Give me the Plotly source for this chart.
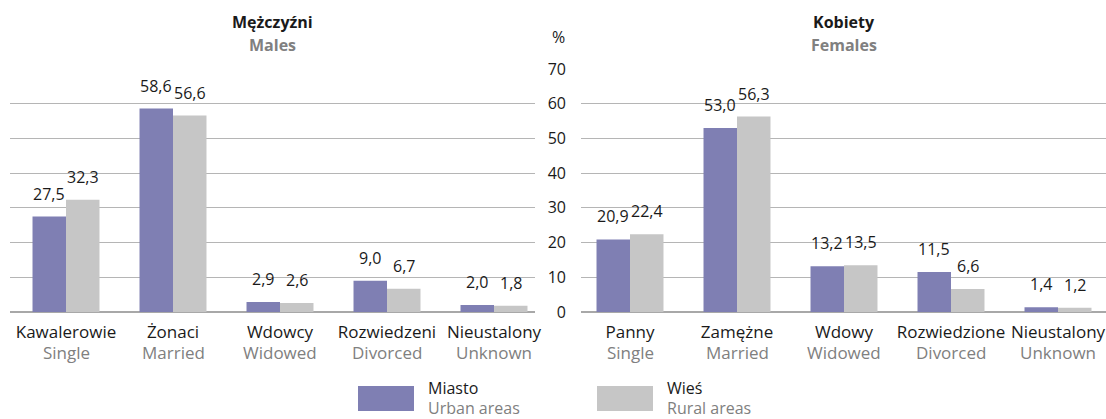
import plotly.graph_objects as go

# ---------------- data ----------------
cat_m = ["Kawalerowie", "Żonaci", "Wdowcy", "Rozwiedzeni", "Nieustalony"]
cat_f = ["Panny", "Zamężne", "Wdowy", "Rozwiedzione", "Nieustalony "]
cat_f_label = ["Panny", "Zamężne", "Wdowy", "Rozwiedzione", "Nieustalony"]
cat_en = ["Single", "Married", "Widowed", "Divorced", "Unknown"]
males_urban = [27.5, 58.6, 2.9, 9.0, 2.0]
males_rural = [32.3, 56.6, 2.6, 6.7, 1.8]
females_urban = [20.9, 53.0, 13.2, 11.5, 1.4]
females_rural = [22.4, 56.3, 13.5, 6.6, 1.2]
y_ticks = [0, 10, 20, 30, 40, 50, 60, 70]

# ---------------- style ----------------
W, H = 1106, 419
FONT = "Open Sans"
PURPLE = "#7f7fb3"
GRAY = "#c6c6c6"
TXT = "#1a1a1a"
TXT2 = "#808080"
GRID = "#b5b5b5"


def px_x(p):
    return p / W


def px_y(p):
    return 1 - p / H


def fmt(v):
    return f"{v:.1f}".replace(".", ",")


fig = go.Figure()

fig.add_trace(go.Bar(x=cat_m, y=males_urban, marker_color=PURPLE, xaxis="x", yaxis="y",
                     name="Miasto", showlegend=False, hoverinfo="skip"))
fig.add_trace(go.Bar(x=cat_m, y=males_rural, marker_color=GRAY, xaxis="x", yaxis="y",
                     name="Wieś", showlegend=False, hoverinfo="skip"))
fig.add_trace(go.Bar(x=cat_f, y=females_urban, marker_color=PURPLE, xaxis="x2", yaxis="y2",
                     name="Miasto", showlegend=False, hoverinfo="skip"))
fig.add_trace(go.Bar(x=cat_f, y=females_rural, marker_color=GRAY, xaxis="x2", yaxis="y2",
                     name="Wieś", showlegend=False, hoverinfo="skip"))

ydom = [px_y(312), px_y(69)]
step = 107.0
x1_dom = [px_x(10), px_x(535)]
x2_dom = [px_x(581), 1.0]
x1_range = [-(66 - 10) / step, (535 - 66) / step]
x2_range = [-(630 - 581) / step, (1106 - 630) / step]

common_x = dict(type="category", showgrid=False, showline=False, ticks="", automargin=False,
                tickfont=dict(family=FONT, size=17, color=TXT), ticklabelstandoff=8)
common_y = dict(range=[0, 70], tickvals=y_ticks, showgrid=True, gridcolor=GRID, gridwidth=1,
                zeroline=True, zerolinecolor="#a8a8a8", zerolinewidth=1.5, automargin=False,
                showline=False, ticks="", fixedrange=True)

fig.update_layout(
    template="none",
    width=W, height=H, autosize=False,
    margin=dict(l=0, r=0, t=0, b=0, pad=0),
    paper_bgcolor="white", plot_bgcolor="white",
    barmode="group", bargap=0.374, bargroupgap=0,
    showlegend=False,
    font=dict(family=FONT, color=TXT),
    xaxis=dict(domain=x1_dom, range=x1_range, anchor="y", tickvals=cat_m,
               ticktext=cat_m, **common_x),
    xaxis2=dict(domain=x2_dom, range=x2_range, anchor="y2", tickvals=cat_f,
                ticktext=cat_f_label, **common_x),
    yaxis=dict(domain=ydom, anchor="x", showticklabels=False, **common_y),
    yaxis2=dict(domain=ydom, anchor="x2", showticklabels=True,
                tickfont=dict(family=FONT, size=16, color=TXT), ticklabelstandoff=14,
                **common_y),
)

annotations = []
bar_off = 16.75
for xa, ya, cats, u, r in [("x", "y", cat_m, males_urban, males_rural),
                           ("x2", "y2", cat_f, females_urban, females_rural)]:
    for c, vu, vr, en in zip(cats, u, r, cat_en):
        for v, sh in [(vu, -bar_off), (vr, bar_off)]:
            annotations.append(dict(x=c, y=v, xref=xa, yref=ya, text=fmt(v), showarrow=False,
                                    xanchor="center", yanchor="bottom", xshift=sh, yshift=10,
                                    font=dict(family=FONT, size=16, color=TXT)))
        # English category name (second label line)
        annotations.append(dict(x=c, y=0, xref=xa, yref=ya, text=en, showarrow=False,
                                xanchor="center", yanchor="middle", yshift=-40,
                                font=dict(family=FONT, size=17, color=TXT2)))

# panel titles
for cx, t1, t2 in [((10 + 535) / 2, "Mężczyźni", "Males"), ((581 + 1106) / 2, "Kobiety", "Females")]:
    annotations.append(dict(x=px_x(cx), y=px_y(22), xref="paper", yref="paper", text=f"<b>{t1}</b>",
                            showarrow=False, xanchor="center", yanchor="middle",
                            font=dict(family=FONT, size=16, color=TXT)))
    annotations.append(dict(x=px_x(cx), y=px_y(45), xref="paper", yref="paper", text=f"<b>{t2}</b>",
                            showarrow=False, xanchor="center", yanchor="middle",
                            font=dict(family=FONT, size=16, color=TXT2)))

annotations.append(dict(x=px_x(558), y=px_y(37), xref="paper", yref="paper", text="%",
                        showarrow=False, xanchor="center", yanchor="middle",
                        font=dict(family=FONT, size=16, color=TXT)))

# legend
shapes = []
for x0, col, t1, t2 in [(358, PURPLE, "Miasto", "Urban areas"), (597, GRAY, "Wieś", "Rural areas")]:
    shapes.append(dict(type="rect", xref="paper", yref="paper", x0=px_x(x0), x1=px_x(x0 + 56),
                       y0=px_y(411), y1=px_y(386), fillcolor=col, line=dict(width=0)))
    annotations.append(dict(x=px_x(x0 + 68), y=px_y(388), xref="paper", yref="paper", text=t1,
                            showarrow=False, xanchor="left", yanchor="middle",
                            font=dict(family=FONT, size=16, color=TXT)))
    annotations.append(dict(x=px_x(x0 + 68), y=px_y(407.5), xref="paper", yref="paper", text=t2,
                            showarrow=False, xanchor="left", yanchor="middle",
                            font=dict(family=FONT, size=16, color=TXT2)))

fig.update_layout(annotations=annotations, shapes=shapes)

fig.write_html("out.html", config={"displayModeBar": False, "staticPlot": True},
               post_script="document.body.style.margin='0';document.body.style.overflow='hidden';")
